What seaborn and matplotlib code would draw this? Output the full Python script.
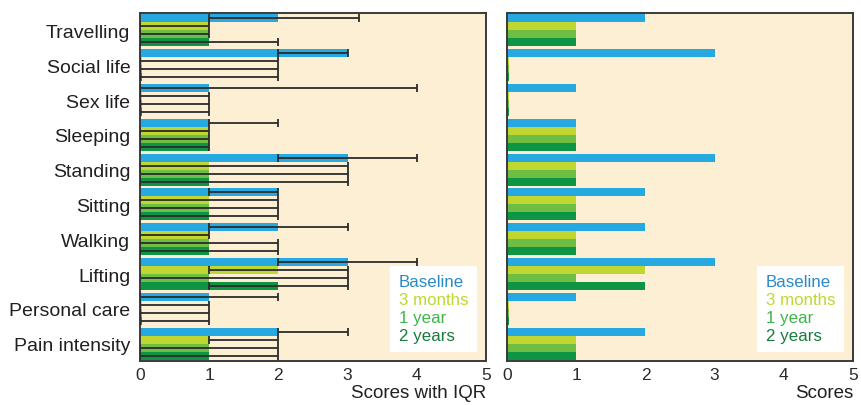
import numpy as np
import pandas as pd
import matplotlib
matplotlib.use("Agg")
import matplotlib.pyplot as plt
from matplotlib.lines import Line2D
import seaborn as sns

categories = ["Travelling", "Social life", "Sex life", "Sleeping", "Standing",
              "Sitting", "Walking", "Lifting", "Personal care", "Pain intensity"]
timepoints = ["Baseline", "3 months", "1 year", "2 years"]

# median scores, same order as categories
baseline = [2, 3, 1, 1, 3, 2, 2, 3, 1, 2]
months3 = [1, 0, 0, 1, 1, 1, 1, 2, 0, 1]
year1 = [1, 0, 0, 1, 1, 1, 1, 1, 0, 1]
years2 = [1, 0, 0, 1, 1, 1, 1, 2, 0, 1]

# interquartile ranges (lower / upper)
baseline_lo = [1, 2, 0, 1, 2, 1, 1, 2, 0, 2]
baseline_hi = [3.17, 3, 4, 2, 4, 2, 3, 4, 2, 3]
months3_lo = [0, 0, 0, 0, 0, 0, 0, 1, 0, 1]
months3_hi = [1, 2, 1, 1, 3, 2, 1, 3, 1, 2]
year1_lo = [0, 0, 0, 0, 0, 0, 0, 0, 0, 0]
year1_hi = [1, 2, 1, 1, 3, 2, 2, 3, 1, 2]
years2_lo = [0, 0, 0, 0, 0, 0, 0, 1, 0, 0]
years2_hi = [2, 2, 1, 1, 3, 2, 2, 3, 1, 2]

colors = ["#25A9E0", "#BFD730", "#6FBE44", "#0D9445"]
text_colors = ["#2A8AC8", "#BFD730", "#3DB54A", "#177A3E"]
bg = "#FDEFD4"
dark = "#2b2b2b"

medians = [baseline, months3, year1, years2]
lows = [baseline_lo, months3_lo, year1_lo, years2_lo]
highs = [baseline_hi, months3_hi, year1_hi, years2_hi]

rows = []
for t, med, lo, hi in zip(timepoints, medians, lows, highs):
    for c, m, l, h in zip(categories, med, lo, hi):
        rows.append({"category": c, "time": t, "median": m, "lo": l, "hi": h})
df = pd.DataFrame(rows)
# zero medians are drawn as a thin stub
df["shown"] = df["median"].clip(lower=0.035)

sns.set_style("white")
plt.rcParams["font.family"] = ["Liberation Sans", "DejaVu Sans"]

fig = plt.figure(figsize=(8.61, 4.06), dpi=100)
ax1 = fig.add_axes([0.1626, 0.1084, 0.4019, 0.857])
ax2 = fig.add_axes([0.5889, 0.1084, 0.4019, 0.857])

width = 0.92
for ax in (ax1, ax2):
    sns.barplot(data=df, x="shown", y="category", hue="time", order=categories,
                hue_order=timepoints, palette=colors, orient="h", width=width,
                gap=0, legend=False, ax=ax, errorbar=None, saturation=1,
                linewidth=0, edgecolor="none")
    ax.set_facecolor(bg)
    ax.set_xlim(0, 5)
    ax.set_ylim(len(categories) - 0.5, -0.5)
    ax.set_xticks(range(6))
    ax.tick_params(axis="x", direction="out", length=3, width=1, colors=dark,
                   labelsize=12.5, pad=1.5)
    ax.tick_params(axis="y", length=0)
    ax.set_ylabel("")
    for s in ax.spines.values():
        s.set_color("#3a3a3a")
        s.set_linewidth(1.4)
    leg = ax.legend(handles=[Line2D([], [], linestyle="none")] * 4,
                    labels=timepoints, loc="lower right", handlelength=0,
                    handletextpad=0, frameon=True, fancybox=False,
                    facecolor="white", edgecolor="none", framealpha=1,
                    fontsize=12.2, labelspacing=0.18, borderpad=0.5,
                    borderaxespad=0.55)
    for txt, col in zip(leg.get_texts(), text_colors):
        txt.set_color(col)

# IQR whiskers on the left panel
bar_h = width / len(timepoints)
for j, t in enumerate(timepoints):
    sub = df[df["time"] == t].set_index("category").loc[categories]
    ypos = np.arange(len(categories)) + (j - 1.5) * bar_h
    ax1.errorbar(sub["median"], ypos,
                 xerr=[sub["median"] - sub["lo"], sub["hi"] - sub["median"]],
                 fmt="none", ecolor=dark, elinewidth=1.3, capsize=3,
                 capthick=1.3, zorder=5)

ax1.tick_params(axis="y", labelsize=14, colors="#231F20", pad=7)
ax2.set_yticklabels([])
ax1.set_xlabel("Scores with IQR", loc="right", fontsize=13.5, color="#231F20",
               labelpad=1)
ax2.set_xlabel("Scores", loc="right", fontsize=13.5, color="#231F20",
               labelpad=1)

fig.savefig("out.png", dpi=100, facecolor="white")
